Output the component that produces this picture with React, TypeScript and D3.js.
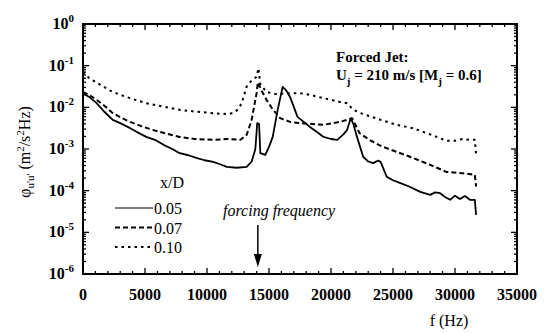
import * as d3 from 'd3'

// x/D = 0.05 (solid)
const fSolid = [0, 0.5, 1.1, 1.7, 2.4, 3.0, 3.8, 4.4, 5.1, 5.8, 6.5, 7.2, 7.8, 8.5, 9.2, 9.8, 10.5, 11.0, 11.6, 12.4, 13.2, 13.6, 13.9, 14.05, 14.2, 14.3, 14.7, 15.0, 15.3, 15.7, 16.1, 16.4, 16.7, 17.3, 17.8, 18.3, 18.9, 19.4, 20.0, 20.5, 21.0, 21.3, 21.6, 21.8, 22.1, 22.6, 23.0, 23.4, 23.8, 24.0, 24.5, 25.0, 25.6, 26.3, 27.2, 28.0, 28.4, 28.8, 29.2, 29.6, 30.0, 30.4, 30.8, 31.2, 31.6, 31.7]
const logSolid = [-1.66, -1.75, -1.9, -2.1, -2.3, -2.38, -2.5, -2.6, -2.71, -2.78, -2.9, -3.0, -3.1, -3.15, -3.22, -3.27, -3.31, -3.36, -3.43, -3.45, -3.43, -3.3, -3.0, -2.38, -2.4, -3.1, -3.14, -2.95, -2.71, -2.06, -1.51, -1.6, -1.75, -2.23, -2.35, -2.47, -2.6, -2.71, -2.76, -2.78, -2.65, -2.54, -2.26, -2.4, -2.71, -3.19, -3.3, -3.34, -3.28, -3.31, -3.67, -3.75, -3.82, -3.9, -4.03, -4.1, -4.04, -4.06, -4.15, -4.22, -4.12, -4.2, -4.13, -4.22, -4.22, -4.58]

// x/D = 0.07 (dashed)
const fDashed = [0, 0.5, 1.1, 1.8, 2.4, 3.1, 3.8, 4.7, 5.6, 6.7, 7.8, 9.0, 10.5, 11.6, 12.7, 13.2, 13.6, 14.0, 14.1, 14.4, 14.8, 15.3, 15.9, 16.7, 17.5, 18.5, 19.4, 20.1, 20.7, 21.3, 21.7, 22.3, 23.2, 24.2, 25.3, 26.5, 28.0, 29.3, 30.6, 31.6, 31.7]
const logDashed = [-1.63, -1.7, -1.82, -1.98, -2.14, -2.25, -2.35, -2.45, -2.54, -2.63, -2.71, -2.76, -2.78, -2.76, -2.78, -2.66, -2.3, -1.66, -1.4, -1.6, -1.82, -2.05, -2.26, -2.35, -2.38, -2.4, -2.42, -2.38, -2.35, -2.3, -2.26, -2.62, -2.8, -2.95, -3.07, -3.2, -3.38, -3.55, -3.58, -3.62, -3.9]

// x/D = 0.10 (dotted)
const fDotted = [0, 0.5, 1.4, 2.2, 3.0, 4.0, 5.1, 6.4, 7.8, 9.0, 10.5, 11.3, 12.1, 12.5, 12.8, 13.2, 13.6, 14.0, 14.15, 14.3, 14.8, 15.5, 16.7, 17.5, 18.3, 19.4, 20.0, 20.7, 21.3, 21.8, 22.5, 24.0, 25.3, 26.6, 28.0, 29.3, 30.0, 30.6, 31.2, 31.6, 31.7]
const logDotted = [-1.15, -1.3, -1.46, -1.6, -1.7, -1.8, -1.9, -1.98, -2.06, -2.1, -2.14, -2.16, -2.14, -2.05, -1.9, -1.5, -1.35, -1.27, -1.06, -1.45, -1.63, -1.68, -1.66, -1.66, -1.7, -1.78, -1.82, -1.87, -1.9, -2.06, -2.15, -2.3, -2.42, -2.5, -2.65, -2.8, -2.8, -2.76, -2.78, -2.78, -3.14]

const xTicks = [0, 5000, 10000, 15000, 20000, 25000, 30000, 35000]
const yDecades = [-6, -5, -4, -3, -2, -1, 0]
const legendLabels = ['0.05', '0.07', '0.10']
const dashes = ['none', '5,3', '2.5,4']
const forcingFreq = 14100

const W = 545
const H = 334
const mL = 83
const mR = 28
const mT = 24
const mB = 60
const serif = "'Liberation Serif', 'Times New Roman', 'DejaVu Serif', serif"

export default function App() {
  const x = d3.scaleLinear([0, 35000], [mL, W - mR])
  const y = d3.scaleLog([1e-6, 1], [H - mB, mT])
  const line = d3
    .line<[number, number]>()
    .x((d) => x(d[0] * 1000))
    .y((d) => y(Math.pow(10, d[1])))

  const series = [
    fSolid.map((f, i) => [f, logSolid[i]] as [number, number]),
    fDashed.map((f, i) => [f, logDashed[i]] as [number, number]),
    fDotted.map((f, i) => [f, logDotted[i]] as [number, number]),
  ]

  const minorX = d3.range(0, 35001, 1000)
  const minorY: number[] = []
  yDecades.slice(0, -1).forEach((e) => {
    for (let k = 2; k < 10; k++) minorY.push(k * Math.pow(10, e))
  })

  const x0 = x.range()[0]
  const x1 = x.range()[1]
  const y0 = y.range()[0]
  const y1 = y.range()[1]

  return (
    <svg
      width={W}
      height={H}
      style={{ position: 'absolute', left: 0, top: 0, background: 'white', fontFamily: serif }}
    >
      {/* ticks */}
      {minorX.map((v) => {
        const major = v % 5000 === 0
        const len = major ? 6 : 3
        return (
          <g key={'xt' + v} stroke="black" strokeWidth={1.3}>
            <line x1={x(v)} x2={x(v)} y1={y0} y2={y0 - len} />
            <line x1={x(v)} x2={x(v)} y1={y1} y2={y1 + len} />
          </g>
        )
      })}
      {minorY.map((v, i) => (
        <g key={'ym' + i} stroke="black" strokeWidth={1.3}>
          <line x1={x0} x2={x0 + 3} y1={y(v)} y2={y(v)} />
          <line x1={x1} x2={x1 - 3} y1={y(v)} y2={y(v)} />
        </g>
      ))}
      {yDecades.map((e) => (
        <g key={'yM' + e} stroke="black" strokeWidth={1.3}>
          <line x1={x0} x2={x0 + 6} y1={y(Math.pow(10, e))} y2={y(Math.pow(10, e))} />
          <line x1={x1} x2={x1 - 6} y1={y(Math.pow(10, e))} y2={y(Math.pow(10, e))} />
        </g>
      ))}
      <rect x={x0} y={y1} width={x1 - x0} height={y0 - y1} fill="none" stroke="black" strokeWidth={2} />

      {/* tick labels */}
      {xTicks.map((v) => (
        <text key={'xl' + v} x={x(v)} y={y0 + 26} textAnchor="middle" fontSize={16} fontWeight="bold">
          {v}
        </text>
      ))}
      {yDecades.map((e) => (
        <text key={'yl' + e} x={x0 - 9} y={y(Math.pow(10, e)) + 5} textAnchor="end" fontSize={16} fontWeight="bold">
          10
          <tspan fontSize={11} dy={-7}>
            {e}
          </tspan>
        </text>
      ))}

      {/* series */}
      {series.map((s, i) => (
        <path
          key={'s' + i}
          d={line(s) || undefined}
          fill="none"
          stroke="black"
          strokeWidth={i === 0 ? 1.8 : 2}
          strokeDasharray={dashes[i]}
          strokeLinejoin="round"
        />
      ))}

      {/* axis titles */}
      <text x={449} y={326} textAnchor="middle" fontSize={16}>
        f (Hz)
      </text>
      <text transform="translate(30,152) rotate(-90)" textAnchor="middle" fontSize={16}>
        φ
        <tspan fontSize={11} dy={4}>u'u'</tspan>
        <tspan dy={-4}> (m</tspan>
        <tspan fontSize={11} dy={-6}>2</tspan>
        <tspan dy={6}>/s</tspan>
        <tspan fontSize={11} dy={-6}>2</tspan>
        <tspan dy={6}>Hz)</tspan>
      </text>

      {/* annotation */}
      <text x={336} y={62} fontSize={15} fontWeight="bold">
        Forced Jet:
      </text>
      <text x={336} y={80} fontSize={15} fontWeight="bold">
        U
        <tspan fontSize={11} dy={5}>j</tspan>
        <tspan dy={-5}> = 210 m/s [M</tspan>
        <tspan fontSize={11} dy={5}>j</tspan>
        <tspan dy={-5}> = 0.6]</tspan>
      </text>

      {/* legend */}
      <text x={160} y={188} fontSize={16}>
        x/D
      </text>
      {legendLabels.map((lab, i) => (
        <g key={'lg' + i}>
          <line
            x1={115}
            x2={153}
            y1={208 + i * 19.5}
            y2={208 + i * 19.5}
            stroke="black"
            strokeWidth={i === 0 ? 1.2 : 1.8}
            strokeDasharray={dashes[i]}
          />
          <text x={154} y={214 + i * 19.5} fontSize={16}>
            {lab}
          </text>
        </g>
      ))}

      {/* forcing frequency */}
      <text x={223} y={216} fontSize={16} fontStyle="italic">
        forcing frequency
      </text>
      <line x1={x(forcingFreq)} x2={x(forcingFreq)} y1={225} y2={258} stroke="black" strokeWidth={1.5} />
      <path
        d={`M${x(forcingFreq) - 4},${254} L${x(forcingFreq) + 4},${254} L${x(forcingFreq)},${267} Z`}
        fill="black"
      />
    </svg>
  )
}
